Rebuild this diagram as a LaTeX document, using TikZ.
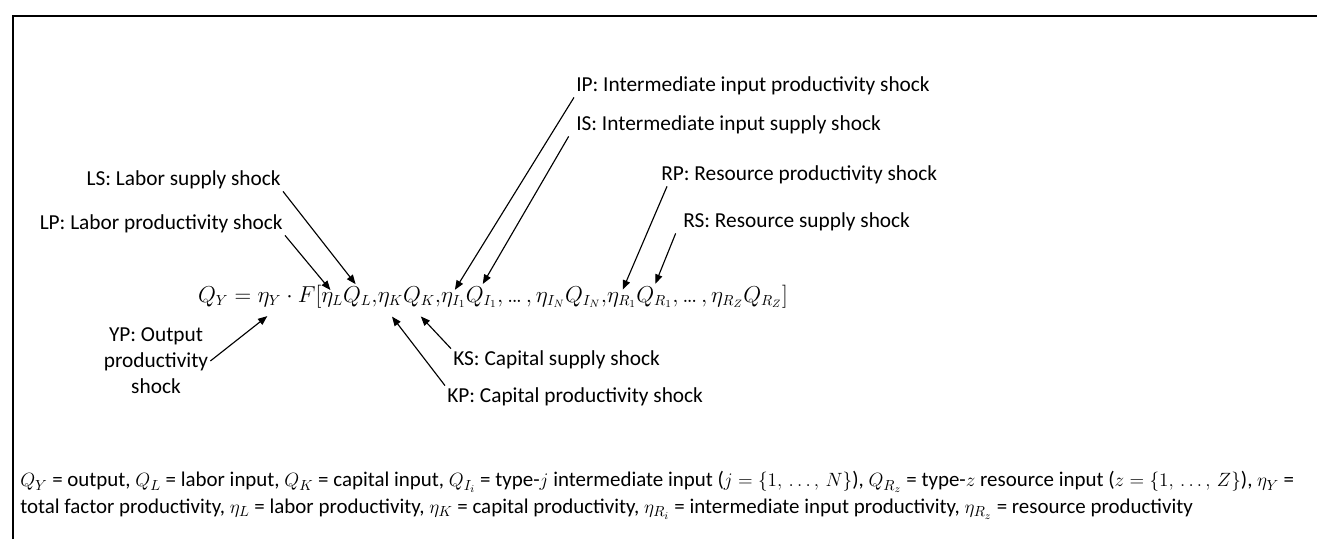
\documentclass[tikz,border=0pt]{standalone}
\usepackage{fontspec}
\setmainfont{Carlito}
\usetikzlibrary{arrows.meta}
\newcommand{\labfont}{\fontsize{16}{19.5}\selectfont}
\newcommand{\eqfont}{\fontsize{16}{19.5}\selectfont}
\newcommand{\notefont}{\fontsize{15.7}{20.25}\selectfont}
\newcommand{\dts}{\mathinner{.\mkern-1.5mu.\mkern-1.5mu.}}
\tikzset{
  lab/.style={font=\labfont, inner sep=1.5pt, text=black},
  eqpart/.style={font=\eqfont, inner sep=0pt, outer sep=0pt, anchor=base west},
  arr/.style={-{Triangle[length=7pt,width=5.5pt]}, line width=0.85pt, shorten >=2pt},
  frame/.style={line width=1.5pt}
}
\begin{document}
\begin{tikzpicture}[x=0.75pt,y=-0.75pt]
\useasboundingbox (0,0) rectangle (1317,539);
\coordinate (fa) at (12.5,539);
\coordinate (fb) at (12.5,15.5);
\coordinate (fc) at (1317,15.5);
\draw[frame] (fa) -- (fb) -- (fc);

% equation
\node[eqpart] (lhs) at (198,302) {$Q_Y = {}$};
\node[eqpart] (etaY) at (lhs.base east) {$\eta_Y$};
\node[eqpart] (F) at (etaY.base east) {${}\cdot F\Bigl[$};
\node[eqpart] (nL) at (F.base east) {$\eta_L$};
\node[eqpart] (QL) at (nL.base east) {$Q_L$};
\node[eqpart] (c1) at (QL.base east) {$,$};
\node[eqpart] (nK) at (c1.base east) {$\eta_K$};
\node[eqpart] (QK) at (nK.base east) {$Q_K$};
\node[eqpart] (c2) at (QK.base east) {$,$};
\node[eqpart] (nI) at (c2.base east) {$\eta_{I_1}$};
\node[eqpart] (QI) at (nI.base east) {$Q_{I_1}$};
\node[eqpart] (mid) at (QI.base east) {$,\dts,\eta_{I_N}Q_{I_N},$};
\node[eqpart] (nR) at (mid.base east) {$\eta_{R_1}$};
\node[eqpart] (QR) at (nR.base east) {$Q_{R_1}$};
\node[eqpart] (tail) at (QR.base east) {$,\dts,\eta_{R_Z}Q_{R_Z}\Bigr]$};

% labels
\node[lab, anchor=east] (LS) at (283,180) {LS: Labor supply shock};
\node[lab, anchor=east] (LP) at (285,224) {LP: Labor productivity shock};
\node[lab, anchor=west] (IP) at (574,86) {IP: Intermediate input productivity shock};
\node[lab, anchor=west] (IS) at (574,125) {IS: Intermediate input supply shock};
\node[lab, anchor=west] (RP) at (659,175) {RP: Resource productivity shock};
\node[lab, anchor=west] (RS) at (681,222) {RS: Resource supply shock};
\node[lab, align=center] (YP) at (156,361) {YP: Output\\productivity\\shock};
\node[lab, anchor=west] (KS) at (451,360) {KS: Capital supply shock};
\node[lab, anchor=west] (KP) at (445,397) {KP: Capital productivity shock};

% arrows
\draw[arr] (LS.south east) -- (QL.north);
\draw[arr] (LP.south east) -- (nL.north);
\draw[arr] (IP.south west) -- (nI.north);
\draw[arr] ([xshift=-4pt]IS.south west) -- (QI.north);
\draw[arr] ([xshift=6pt]RP.south west) -- (nR.north);
\draw[arr] ([xshift=-4pt]RS.south west) -- (QR.north);
\draw[arr] (YP.east) -- ([yshift=-6pt]etaY.south);
\draw[arr] (KS.north west) -- ([yshift=-6pt]QK.south);
\draw[arr] (KP.north west) -- ([yshift=-6pt]nK.south);

% note
\node[font=\notefont, anchor=west, inner sep=0pt] (n1) at (20,482) {$Q_Y$ = output, $Q_L$ = labor input, $Q_K$ = capital input, $Q_{I_i}$ = type-$j$ intermediate input ($j = \{1,\,\ldots,\,N\}$), $Q_{R_z}$ = type-$z$ resource input ($z = \{1,\,\ldots,\,Z\}$), $\eta_Y$ =};
\node[font=\notefont, anchor=west, inner sep=0pt] (n2) at (20,509) {total factor productivity, $\eta_L$ = labor productivity, $\eta_K$ = capital productivity, $\eta_{R_i}$ = intermediate input productivity, $\eta_{R_z}$ = resource productivity};
\end{tikzpicture}
\end{document}
